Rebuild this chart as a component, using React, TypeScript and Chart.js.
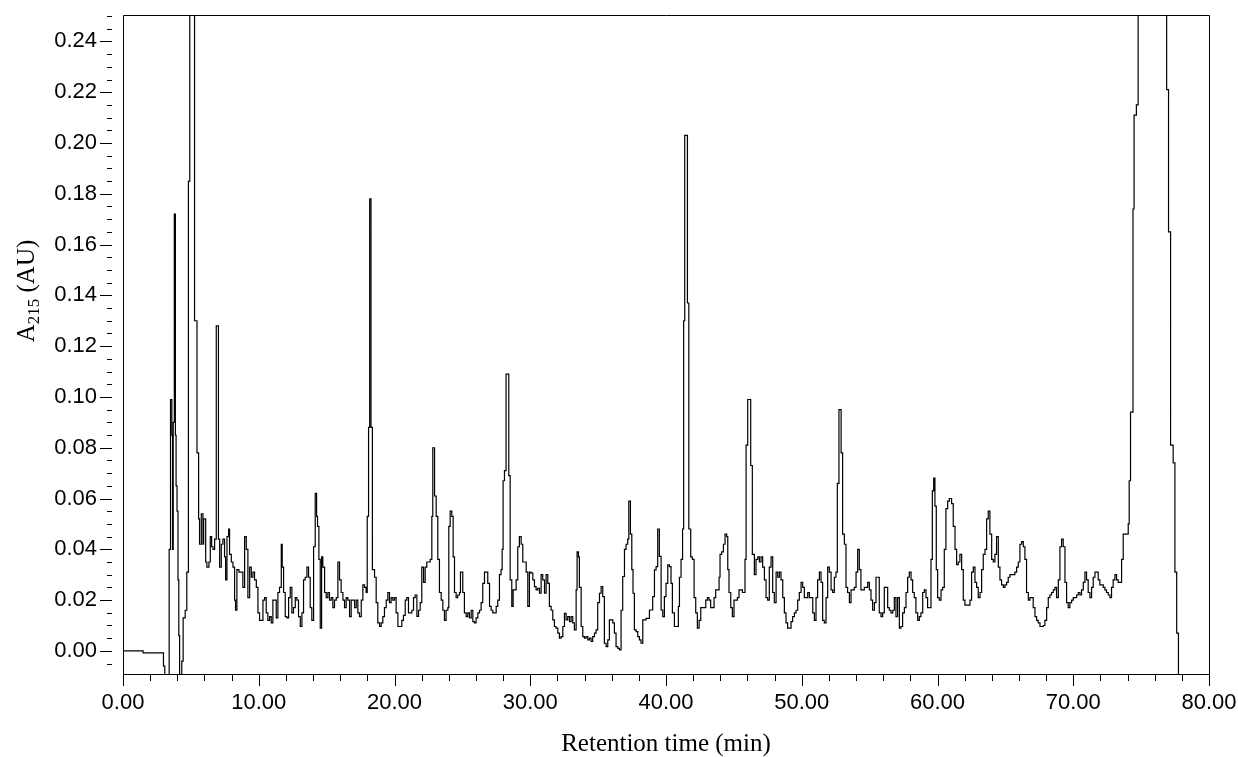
import React, { useEffect, useRef } from 'react';
import { Chart, registerables } from 'chart.js';

Chart.register(...registerables);

// x axis: retention time (min), y axis: absorbance at 215 nm (AU)
const xTickValues = [0, 10, 20, 30, 40, 50, 60, 70, 80];
const yTickValues = [0, 0.02, 0.04, 0.06, 0.08, 0.1, 0.12, 0.14, 0.16, 0.18, 0.2, 0.22, 0.24];
const xAxisTitle = 'Retention time (min)';
const yAxisTitleMain = 'A';
const yAxisTitleSub = '215';
const yAxisTitleUnit = ' (AU)';

// chromatogram trace: [retention time (min), absorbance (AU)]
const chromatogram: [number, number][] = [
  [0, 0.0], [1.48, -0.0008], [2.98, -0.006], [3.08, -0.012], [3.4, 0.04], [3.5, 0.099],
  [3.6, 0.085], [3.65, 0.04], [3.7, 0.09], [3.78, 0.172], [3.86, 0.085], [3.91, 0.065],
  [3.98, 0.055], [4.05, 0.028], [4.11, 0.006], [4.17, -0.012], [4.33, -0.004], [4.43, 0.013],
  [4.58, 0.016], [4.7, 0.031], [4.82, 0.185], [4.92, 0.45], [5.27, 0.13], [5.45, 0.078],
  [5.57, 0.052], [5.64, 0.042], [5.77, 0.054], [5.89, 0.042], [5.94, 0.052], [6.09, 0.035],
  [6.18, 0.033], [6.33, 0.035], [6.43, 0.045], [6.53, 0.041], [6.63, 0.04], [6.75, 0.044],
  [6.87, 0.128], [7.03, 0.044], [7.12, 0.033], [7.24, 0.042], [7.36, 0.044], [7.48, 0.037],
  [7.56, 0.028], [7.66, 0.045], [7.78, 0.048], [7.85, 0.038], [7.98, 0.035], [8.1, 0.033],
  [8.22, 0.02], [8.29, 0.016], [8.39, 0.032], [8.54, 0.031], [8.71, 0.031], [8.83, 0.025],
  [8.96, 0.045], [9.08, 0.04], [9.2, 0.021], [9.33, 0.033], [9.45, 0.029], [9.57, 0.031],
  [9.69, 0.028], [9.82, 0.025], [9.94, 0.015], [10.06, 0.012], [10.18, 0.012], [10.31, 0.02],
  [10.43, 0.021], [10.55, 0.015], [10.67, 0.012], [10.8, 0.0135], [10.92, 0.011], [11.04, 0.02],
  [11.17, 0.02], [11.29, 0.013], [11.41, 0.023], [11.53, 0.025], [11.66, 0.042], [11.73, 0.033],
  [11.83, 0.023], [11.95, 0.0135], [12.07, 0.013], [12.2, 0.021], [12.32, 0.025], [12.44, 0.015],
  [12.56, 0.017], [12.69, 0.021], [12.81, 0.02], [12.93, 0.0135], [13.06, 0.0096], [13.18, 0.015],
  [13.3, 0.028], [13.42, 0.029], [13.55, 0.033], [13.67, 0.029], [13.79, 0.017], [13.91, 0.012],
  [14.04, 0.041], [14.16, 0.062], [14.26, 0.053], [14.33, 0.049], [14.43, 0.036], [14.53, 0.009],
  [14.63, 0.037], [14.72, 0.033], [14.85, 0.023], [14.97, 0.021], [15.09, 0.023], [15.21, 0.02],
  [15.34, 0.021], [15.46, 0.017], [15.58, 0.02], [15.71, 0.021], [15.83, 0.035], [15.95, 0.028],
  [16.07, 0.023], [16.2, 0.02], [16.32, 0.017], [16.44, 0.021], [16.56, 0.02], [16.69, 0.0135],
  [16.81, 0.02], [16.93, 0.02], [17.06, 0.017], [17.18, 0.02], [17.3, 0.015], [17.42, 0.0135],
  [17.55, 0.02], [17.67, 0.026], [17.79, 0.025], [17.91, 0.023], [17.99, 0.053], [18.09, 0.088],
  [18.17, 0.178], [18.27, 0.088], [18.37, 0.032], [18.53, 0.029], [18.65, 0.019], [18.77, 0.011],
  [18.9, 0.0096], [19.02, 0.011], [19.14, 0.0135], [19.26, 0.017], [19.39, 0.02], [19.51, 0.023],
  [19.63, 0.019], [19.75, 0.021], [19.88, 0.02], [20.0, 0.021], [20.12, 0.015], [20.25, 0.0096],
  [20.42, 0.0096], [20.54, 0.012], [20.66, 0.014], [20.79, 0.02], [20.91, 0.021], [21.03, 0.015],
  [21.15, 0.015], [21.28, 0.016], [21.4, 0.021], [21.52, 0.022], [21.65, 0.0136], [21.77, 0.016],
  [21.89, 0.019], [22.01, 0.033], [22.14, 0.027], [22.26, 0.033], [22.38, 0.035], [22.5, 0.035],
  [22.63, 0.036], [22.75, 0.053], [22.82, 0.08], [22.95, 0.061], [23.07, 0.053], [23.19, 0.036],
  [23.31, 0.023], [23.44, 0.02], [23.56, 0.016], [23.68, 0.012], [23.8, 0.016], [23.93, 0.017],
  [24.0, 0.049], [24.1, 0.055], [24.22, 0.053], [24.32, 0.037], [24.42, 0.023], [24.54, 0.021],
  [24.66, 0.022], [24.79, 0.023], [24.86, 0.031], [24.96, 0.031], [25.03, 0.023], [25.15, 0.015],
  [25.28, 0.0135], [25.4, 0.015], [25.52, 0.013], [25.65, 0.016], [25.77, 0.0115], [25.89, 0.011],
  [26.01, 0.013], [26.14, 0.015], [26.26, 0.016], [26.38, 0.019], [26.5, 0.0266], [26.63, 0.031],
  [26.75, 0.031], [26.87, 0.0266], [27.0, 0.0175], [27.12, 0.016], [27.24, 0.015], [27.36, 0.015],
  [27.49, 0.0175], [27.61, 0.02], [27.73, 0.03], [27.85, 0.032], [27.93, 0.04], [28.0, 0.067],
  [28.1, 0.071], [28.22, 0.109], [28.42, 0.069], [28.52, 0.028], [28.64, 0.0175], [28.74, 0.024],
  [28.84, 0.024], [28.96, 0.028], [29.08, 0.041], [29.2, 0.045], [29.33, 0.042], [29.45, 0.035],
  [29.57, 0.035], [29.7, 0.031], [29.82, 0.0175], [29.94, 0.031], [30.06, 0.0306], [30.19, 0.028],
  [30.31, 0.0253], [30.43, 0.024], [30.55, 0.0246], [30.68, 0.0227], [30.8, 0.03], [30.92, 0.028],
  [31.05, 0.0227], [31.17, 0.03], [31.29, 0.0266], [31.41, 0.0175], [31.54, 0.016], [31.66, 0.0122],
  [31.78, 0.0096], [31.9, 0.009], [32.03, 0.007], [32.15, 0.005], [32.27, 0.0056], [32.4, 0.0096],
  [32.52, 0.0148], [32.64, 0.0122], [32.76, 0.0135], [32.89, 0.0115], [33.01, 0.0135], [33.13, 0.011],
  [33.25, 0.0083], [33.38, 0.024], [33.45, 0.039], [33.55, 0.037], [33.62, 0.025], [33.75, 0.0096],
  [33.87, 0.0056], [33.99, 0.005], [34.11, 0.0056], [34.24, 0.0043], [34.36, 0.005], [34.48, 0.0037],
  [34.6, 0.0056], [34.73, 0.007], [34.85, 0.0083], [34.97, 0.019], [35.1, 0.0227], [35.22, 0.0253],
  [35.34, 0.0214], [35.46, 0.003], [35.59, 0.0017], [35.71, 0.0043], [35.83, 0.0122], [35.95, 0.0122],
  [36.08, 0.011], [36.2, 0.007], [36.32, 0.0017], [36.45, 0.001], [36.57, 0.0004], [36.69, 0.016],
  [36.81, 0.0293], [36.94, 0.04], [37.06, 0.042], [37.18, 0.044], [37.26, 0.059], [37.38, 0.046],
  [37.48, 0.032], [37.57, 0.0227], [37.67, 0.0083], [37.8, 0.0076], [37.92, 0.0056], [38.04, 0.0043],
  [38.16, 0.003], [38.29, 0.0122], [38.41, 0.0122], [38.53, 0.0128], [38.65, 0.0128], [38.78, 0.0161],
  [38.9, 0.0161], [39.02, 0.0214], [39.15, 0.0319], [39.27, 0.0332], [39.39, 0.048], [39.51, 0.0372],
  [39.64, 0.0161], [39.76, 0.0135], [39.88, 0.0214], [40.0, 0.0266], [40.13, 0.0339], [40.25, 0.0332],
  [40.37, 0.0266], [40.47, 0.015], [40.62, 0.0096], [40.91, 0.0175], [40.99, 0.029], [41.11, 0.036],
  [41.22, 0.048], [41.3, 0.13], [41.38, 0.203], [41.58, 0.137], [41.68, 0.048], [41.82, 0.037],
  [41.94, 0.036], [42.07, 0.021], [42.19, 0.015], [42.31, 0.009], [42.44, 0.012], [42.56, 0.017],
  [42.68, 0.017], [42.8, 0.017], [42.93, 0.02], [43.05, 0.021], [43.17, 0.02], [43.29, 0.017],
  [43.42, 0.017], [43.54, 0.021], [43.66, 0.024], [43.79, 0.024], [43.91, 0.029], [43.98, 0.038],
  [44.1, 0.039], [44.23, 0.042], [44.35, 0.046], [44.47, 0.045], [44.55, 0.032], [44.64, 0.023],
  [44.77, 0.017], [44.89, 0.0135], [45.01, 0.02], [45.14, 0.02], [45.26, 0.021], [45.38, 0.024],
  [45.5, 0.024], [45.63, 0.023], [45.75, 0.023], [45.82, 0.036], [45.9, 0.081], [46.02, 0.099],
  [46.24, 0.073], [46.36, 0.038], [46.51, 0.03], [46.63, 0.036], [46.76, 0.037], [46.88, 0.035],
  [47.0, 0.037], [47.12, 0.033], [47.25, 0.028], [47.37, 0.021], [47.49, 0.02], [47.61, 0.033],
  [47.74, 0.037], [47.86, 0.023], [47.98, 0.019], [48.11, 0.031], [48.23, 0.029], [48.35, 0.031],
  [48.47, 0.028], [48.6, 0.021], [48.72, 0.015], [48.84, 0.011], [48.96, 0.009], [49.09, 0.009],
  [49.21, 0.0115], [49.33, 0.0135], [49.46, 0.015], [49.58, 0.016], [49.7, 0.02], [49.82, 0.023],
  [49.95, 0.027], [50.07, 0.025], [50.19, 0.021], [50.31, 0.021], [50.44, 0.023], [50.56, 0.021],
  [50.68, 0.021], [50.81, 0.015], [50.93, 0.012], [51.05, 0.021], [51.17, 0.028], [51.3, 0.031],
  [51.42, 0.027], [51.54, 0.012], [51.66, 0.011], [51.79, 0.021], [51.91, 0.033], [52.03, 0.031],
  [52.16, 0.024], [52.28, 0.023], [52.4, 0.029], [52.52, 0.031], [52.62, 0.066], [52.74, 0.095],
  [52.9, 0.078], [53.01, 0.046], [53.14, 0.042], [53.26, 0.025], [53.38, 0.023], [53.51, 0.019],
  [53.63, 0.024], [53.75, 0.024], [53.87, 0.025], [54.0, 0.031], [54.12, 0.04], [54.24, 0.032],
  [54.36, 0.024], [54.49, 0.024], [54.61, 0.025], [54.73, 0.025], [54.86, 0.027], [54.98, 0.024],
  [55.1, 0.02], [55.22, 0.016], [55.35, 0.019], [55.47, 0.029], [55.59, 0.029], [55.71, 0.015],
  [55.84, 0.0135], [55.96, 0.015], [56.08, 0.025], [56.21, 0.025], [56.33, 0.017], [56.45, 0.016],
  [56.57, 0.015], [56.7, 0.016], [56.82, 0.021], [56.94, 0.0135], [57.06, 0.021], [57.19, 0.009],
  [57.31, 0.0096], [57.43, 0.015], [57.56, 0.017], [57.68, 0.023], [57.8, 0.029], [57.92, 0.031],
  [58.05, 0.028], [58.17, 0.023], [58.29, 0.021], [58.41, 0.015], [58.54, 0.012], [58.66, 0.0135],
  [58.78, 0.015], [58.91, 0.023], [59.03, 0.024], [59.15, 0.021], [59.27, 0.017], [59.4, 0.017],
  [59.52, 0.036], [59.62, 0.063], [59.72, 0.068], [59.81, 0.057], [59.91, 0.032], [60.01, 0.021],
  [60.13, 0.02], [60.26, 0.024], [60.38, 0.025], [60.5, 0.04], [60.62, 0.056], [60.75, 0.059],
  [60.87, 0.06], [61.04, 0.058], [61.16, 0.049], [61.29, 0.04], [61.41, 0.034], [61.53, 0.035],
  [61.65, 0.038], [61.78, 0.032], [61.9, 0.02], [62.02, 0.018], [62.39, 0.02], [62.51, 0.031],
  [62.64, 0.033], [62.76, 0.027], [62.88, 0.025], [63.0, 0.021], [63.13, 0.023], [63.25, 0.032],
  [63.37, 0.038], [63.5, 0.04], [63.62, 0.052], [63.74, 0.055], [63.86, 0.046], [63.99, 0.036],
  [64.11, 0.035], [64.23, 0.038], [64.35, 0.045], [64.48, 0.033], [64.6, 0.028], [64.72, 0.026],
  [64.85, 0.025], [64.97, 0.026], [65.09, 0.027], [65.21, 0.029], [65.34, 0.03], [65.7, 0.031],
  [65.83, 0.033], [65.95, 0.035], [66.07, 0.042], [66.2, 0.043], [66.32, 0.041], [66.44, 0.036],
  [66.56, 0.023], [66.69, 0.02], [66.81, 0.021], [67.05, 0.017], [67.18, 0.0135], [67.3, 0.012],
  [67.42, 0.011], [67.55, 0.0096], [67.79, 0.01], [67.91, 0.012], [68.04, 0.017], [68.16, 0.021],
  [68.28, 0.022], [68.4, 0.023], [68.53, 0.024], [68.65, 0.025], [68.77, 0.021], [68.9, 0.028],
  [69.02, 0.041], [69.14, 0.044], [69.26, 0.041], [69.39, 0.027], [69.51, 0.019], [69.63, 0.017],
  [69.75, 0.019], [69.88, 0.02], [70.0, 0.021], [70.25, 0.022], [70.37, 0.023], [70.49, 0.022],
  [70.61, 0.024], [70.74, 0.027], [70.86, 0.031], [70.98, 0.028], [71.1, 0.023], [71.23, 0.021],
  [71.35, 0.025], [71.47, 0.029], [71.6, 0.031], [71.84, 0.028], [71.96, 0.026], [72.21, 0.025],
  [72.33, 0.024], [72.45, 0.023], [72.58, 0.022], [72.7, 0.021], [72.82, 0.025], [72.94, 0.028],
  [73.07, 0.03], [73.19, 0.028], [73.31, 0.027], [73.56, 0.036], [73.68, 0.046], [74.05, 0.05],
  [74.12, 0.067], [74.22, 0.094], [74.4, 0.174], [74.48, 0.211], [74.65, 0.215], [74.78, 0.45],
  [76.88, 0.221], [77.02, 0.165], [77.17, 0.081], [77.36, 0.074], [77.49, 0.031], [77.62, 0.007],
  [77.75, -0.05], [80, -0.05],
];

const X_MIN = 0;
const X_MAX = 80;
const Y_MIN = -0.0091;
const Y_MAX = 0.2504;

const tickFont = { family: "'Liberation Sans', Arial, sans-serif", size: 22, lineHeight: 1.2 };
const serifFamily = "'Liberation Serif', 'Times New Roman', serif";

const zeroPadding = (scale: any) => {
  scale.paddingLeft = 0;
  scale.paddingRight = 0;
  scale.paddingTop = 0;
  scale.paddingBottom = 0;
};

const axesPlugin = {
  id: 'chromAxes',
  afterDraw(chart: any) {
    const { ctx, chartArea: a, scales } = chart;
    const xs = scales.x;
    const ys = scales.y;
    ctx.save();
    ctx.strokeStyle = '#000';
    ctx.lineWidth = 1;
    // frame
    ctx.beginPath();
    ctx.rect(Math.round(a.left) + 0.5, Math.round(a.top) + 0.5, Math.round(a.right - a.left), Math.round(a.bottom - a.top));
    ctx.stroke();
    // x ticks
    ctx.beginPath();
    for (let v = X_MIN; v <= X_MAX; v += 2) {
      const px = Math.round(xs.getPixelForValue(v)) + 0.5;
      const len = v % 10 === 0 ? 12 : 7;
      ctx.moveTo(px, a.bottom);
      ctx.lineTo(px, a.bottom + len);
    }
    // y ticks (detached from the frame)
    const kMin = Math.ceil(Y_MIN / 0.005 - 1e-9);
    const kMax = Math.floor(Y_MAX / 0.005 + 1e-9);
    for (let k = kMin; k <= kMax; k++) {
      const py = Math.round(ys.getPixelForValue(k * 0.005)) + 0.5;
      const major = k % 4 === 0;
      ctx.moveTo(major ? 100 : 107, py);
      ctx.lineTo(112, py);
    }
    ctx.stroke();
    // y title with subscript
    ctx.fillStyle = '#000';
    ctx.translate(27, 291);
    ctx.rotate(-Math.PI / 2);
    ctx.textBaseline = 'alphabetic';
    ctx.textAlign = 'left';
    const mainFont = `25px ${serifFamily}`;
    const subFont = `17px ${serifFamily}`;
    ctx.font = mainFont;
    const wA = ctx.measureText(yAxisTitleMain).width;
    const wU = ctx.measureText(yAxisTitleUnit).width;
    ctx.font = subFont;
    const wS = ctx.measureText(yAxisTitleSub).width;
    const total = wA + wS + wU;
    let x = -total / 2;
    const base = 7;
    ctx.font = mainFont;
    ctx.fillText(yAxisTitleMain, x, base);
    x += wA;
    ctx.font = subFont;
    ctx.fillText(yAxisTitleSub, x, base + 5);
    x += wS;
    ctx.font = mainFont;
    ctx.fillText(yAxisTitleUnit, x, base);
    ctx.restore();
  },
};

export default function App() {
  const canvasRef = useRef<HTMLCanvasElement | null>(null);

  useEffect(() => {
    const canvas = canvasRef.current;
    if (!canvas) return;
    const chart = new Chart(canvas, {
      type: 'line',
      data: {
        datasets: [
          {
            label: 'A215',
            data: chromatogram.map(([t, a]) => ({ x: t, y: a })),
            borderColor: '#000',
            borderWidth: 1.2,
            pointRadius: 0,
            stepped: true,
            fill: false,
          },
        ],
      },
      options: {
        responsive: false,
        animation: false,
        events: [],
        layout: { padding: { left: 0, top: 15, right: 29, bottom: 0 } },
        plugins: {
          legend: { display: false },
          tooltip: { enabled: false },
          title: { display: false },
        },
        scales: {
          x: {
            type: 'linear',
            min: X_MIN,
            max: X_MAX,
            grid: { display: false, drawTicks: false },
            border: { display: false },
            afterBuildTicks: (scale: any) => {
              scale.ticks = xTickValues.map((v) => ({ value: v }));
            },
            afterFit: (scale: any) => {
              scale.height = 83;
              zeroPadding(scale);
            },
            ticks: {
              autoSkip: false,
              maxRotation: 0,
              padding: 16,
              color: '#000',
              font: tickFont,
              callback: (v: any) => Number(v).toFixed(2),
            },
            title: {
              display: true,
              text: xAxisTitle,
              color: '#000',
              font: { family: serifFamily, size: 25, lineHeight: 1 },
              padding: { top: 0, bottom: 0 },
            },
          },
          y: {
            type: 'linear',
            min: Y_MIN,
            max: Y_MAX,
            grid: { display: false, drawTicks: false },
            border: { display: false },
            afterBuildTicks: (scale: any) => {
              scale.ticks = yTickValues.map((v) => ({ value: v }));
            },
            afterFit: (scale: any) => {
              scale.width = 123;
              zeroPadding(scale);
            },
            ticks: {
              autoSkip: false,
              padding: 26,
              color: '#000',
              font: tickFont,
              callback: (v: any) => Number(v).toFixed(2),
            },
          },
        },
      },
      plugins: [axesPlugin],
    });
    return () => chart.destroy();
  }, []);

  return (
    <div style={{ position: 'absolute', left: 0, top: 0, width: 1238, height: 757, background: '#fff' }}>
      <canvas ref={canvasRef} width={1238} height={757} style={{ display: 'block' }} />
    </div>
  );
}
